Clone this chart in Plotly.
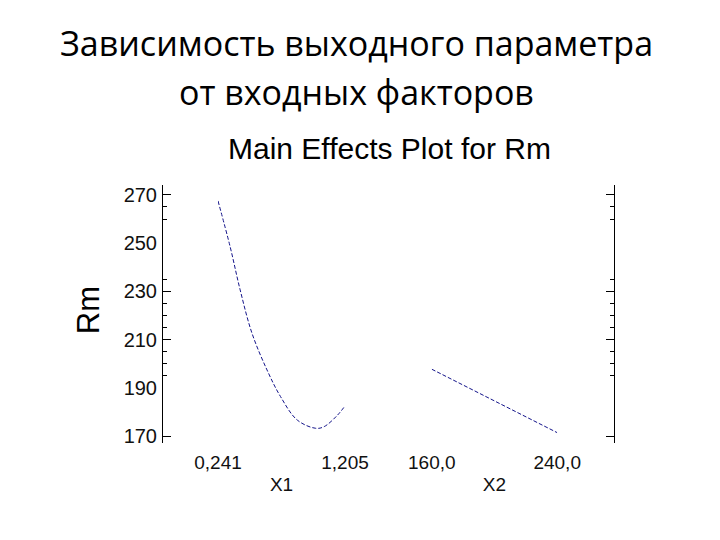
import plotly.graph_objects as go

# ---- data ----
x1_vals = [0.241, 0.333, 0.409, 0.499, 0.613, 0.715, 0.843, 0.983, 1.047, 1.149, 1.205]
rm_x1 = [267.5, 248.5, 230.6, 212.6, 197.4, 186.4, 176.6, 173.2, 173.9, 178.7, 182.5]
x2_vals = [160.0, 240.0]
rm_x2 = [197.7, 171.4]

y_label_vals = [170, 190, 210, 230, 250, 270]
y_long_ticks = [170, 210, 230, 270]
y_short_ticks = [195, 200, 205, 215, 220, 225, 235, 260, 265]
x1_ticks = [0.241, 1.205]
x1_ticktext = ["0,241", "1,205"]
x2_ticks = [160.0, 240.0]
x2_ticktext = ["160,0", "240,0"]

y_range = [167.1, 274.1]

line_style = dict(color="#14148a", width=1, dash="4px,2px")

fig = go.Figure()
fig.add_trace(go.Scatter(x=x1_vals, y=rm_x1, mode="lines", line=dict(shape="spline", **line_style),
                         xaxis="x2", yaxis="y", showlegend=False, hoverinfo="skip"))
fig.add_trace(go.Scatter(x=x2_vals, y=rm_x2, mode="lines", line=line_style,
                         xaxis="x3", yaxis="y", showlegend=False, hoverinfo="skip"))
# empty traces so that the frame axes (x, y) and (x, y2) exist as a subplot
fig.add_trace(go.Scatter(x=[None], y=[None], mode="lines", xaxis="x", yaxis="y",
                         showlegend=False, hoverinfo="skip"))
fig.add_trace(go.Scatter(x=[None], y=[None], mode="lines", xaxis="x", yaxis="y2",
                         showlegend=False, hoverinfo="skip"))

axis_font = dict(family="Liberation Sans, Arial, sans-serif", size=19, color="#111111")
yaxis_font = dict(family="Liberation Sans, Arial, sans-serif", size=20, color="#111111")

fig.update_layout(
    width=720, height=540,
    margin=dict(l=155, r=114, t=177, b=105),
    paper_bgcolor="white", plot_bgcolor="white",
    xaxis=dict(domain=[0, 1], range=[0, 1], anchor="y", showline=False, showgrid=False,
               zeroline=False, showticklabels=False, ticks=""),
    xaxis2=dict(domain=[0.122, 0.4035], range=[0.241, 1.205], anchor="y",
                showline=False, showgrid=False, zeroline=False, ticks="",
                tickvals=x1_ticks, ticktext=x1_ticktext, tickfont=axis_font,
                ticklabelstandoff=6,
                title=dict(text="X1", font=axis_font, standoff=5)),
    xaxis3=dict(domain=[0.596, 0.874], range=[160, 240], anchor="y",
                showline=False, showgrid=False, zeroline=False, ticks="",
                tickvals=x2_ticks, ticktext=x2_ticktext, tickfont=axis_font,
                ticklabelstandoff=6,
                title=dict(text="X2", font=axis_font, standoff=5)),
    yaxis=dict(range=y_range, anchor="x", showgrid=False, zeroline=False,
               showline=True, linecolor="black", linewidth=1, mirror="ticks",
               tickvals=y_label_vals, ticks="inside", ticklen=0, tickcolor="black",
               tickfont=yaxis_font, ticklabelstandoff=1,
               minor=dict(tickvals=y_long_ticks, ticks="inside", ticklen=8,
                          tickcolor="black", showgrid=False)),
    yaxis2=dict(range=y_range, anchor="x", overlaying="y", side="left",
                showgrid=False, zeroline=False, showline=False, mirror="ticks",
                tickvals=y_short_ticks, ticks="inside", ticklen=4, tickcolor="black",
                showticklabels=False),
    annotations=[
        dict(text="Зависимость выходного параметра", xref="paper", yref="paper",
             x=0.430, y=1.55, showarrow=False, xanchor="center", yanchor="middle",
             font=dict(family="Open Sans, Noto Sans, sans-serif", size=34, color="black")),
        dict(text="от входных факторов", xref="paper", yref="paper",
             x=0.430, y=1.36, showarrow=False, xanchor="center", yanchor="middle",
             font=dict(family="Open Sans, Noto Sans, sans-serif", size=34, color="black")),
        dict(text="Main Effects Plot for Rm", xref="paper", yref="paper",
             x=0.503, y=1.143, showarrow=False, xanchor="center", yanchor="middle",
             font=dict(family="Liberation Sans, Arial, sans-serif", size=30, color="black")),
        dict(text="Rm", xref="paper", yref="paper", x=-0.166, y=0.5155, textangle=-90,
             showarrow=False, xanchor="center", yanchor="middle",
             font=dict(family="Liberation Sans, Arial, sans-serif", size=31, color="black")),
    ],
)

fig.write_html("out.html")
